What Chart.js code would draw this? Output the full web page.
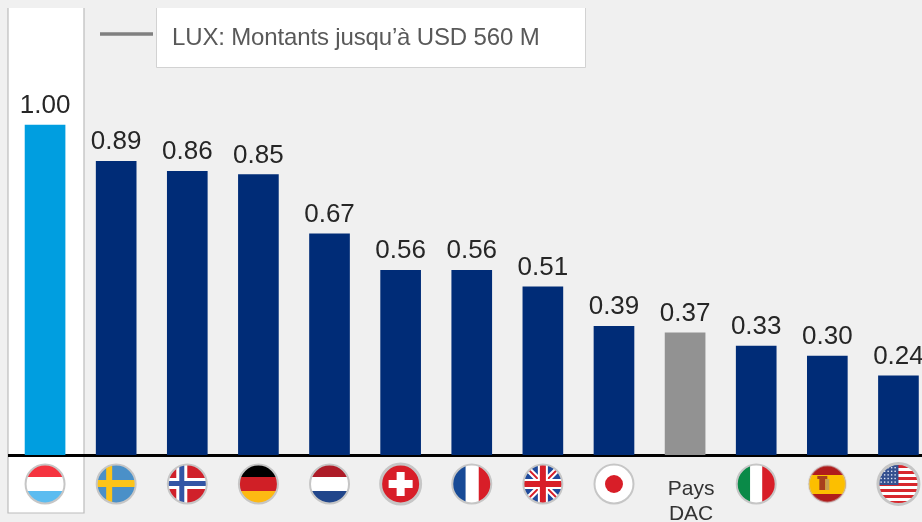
<!DOCTYPE html>
<html lang="fr">
<head>
<meta charset="utf-8">
<title>Montants LUX</title>
<script src="https://cdn.jsdelivr.net/npm/chart.js@4"></script>
<style>
  html, body { margin: 0; padding: 0; width: 922px; height: 522px; overflow: hidden; background: #f0f0f0; }
  canvas { display: block; }
</style>
</head>
<body>
<canvas id="myChart" width="934" height="522"></canvas>
<script>
const categories = ['LUX', 'SWE', 'NOR', 'DEU', 'NLD', 'CHE', 'FRA', 'GBR', 'JPN', 'Pays DAC', 'ITA', 'ESP', 'USA'];
const values = [1.00, 0.89, 0.86, 0.85, 0.67, 0.56, 0.56, 0.51, 0.39, 0.37, 0.33, 0.30, 0.24];
const barColors = ['#009ee0', '#002c77', '#002c77', '#002c77', '#002c77', '#002c77', '#002c77', '#002c77', '#002c77', '#929292', '#002c77', '#002c77', '#002c77'];
const legendText = 'LUX: Montants jusqu\u2019à USD 560 M';

const FONT = '"Liberation Sans", Arial, sans-serif';

function rect(g, col, x, y, w, h) { g.fillStyle = col; g.fillRect(x, y, w, h); }

/* each flag paints a 40x40 box centred on 0,0, clipped to a circle */
const flags = {
  LUX(g) { rect(g, '#f5333f', -20, -20, 40, 13); rect(g, '#fff', -20, -7, 40, 14); rect(g, '#5cbcf0', -20, 7, 40, 13); },
  SWE(g) { rect(g, '#4a90c8', -20, -20, 40, 40); rect(g, '#fcc419', -10, -20, 6, 40); rect(g, '#fcc419', -20, -4, 40, 7); },
  NOR(g) {
    rect(g, '#d0202a', -20, -20, 40, 40);
    rect(g, '#fff', -11, -20, 11, 40); rect(g, '#fff', -20, -6, 40, 11);
    rect(g, '#3355a5', -8, -20, 5, 40); rect(g, '#3355a5', -20, -3, 40, 5);
  },
  DEU(g) { rect(g, '#000', -20, -20, 40, 13); rect(g, '#d01f26', -20, -7, 40, 14); rect(g, '#fdb913', -20, 7, 40, 13); },
  NLD(g) { rect(g, '#ae1c28', -20, -20, 40, 13); rect(g, '#fff', -20, -7, 40, 14); rect(g, '#21468b', -20, 7, 40, 13); },
  CHE(g) { rect(g, '#d81e28', -20, -20, 40, 40); rect(g, '#fff', -4, -12, 8, 24); rect(g, '#fff', -12, -4, 24, 8); },
  FRA(g) { rect(g, '#174a96', -20, -20, 14, 40); rect(g, '#fff', -6, -20, 13, 40); rect(g, '#d81e28', 7, -20, 13, 40); },
  GBR(g) {
    rect(g, '#1f4a9c', -20, -20, 40, 40);
    g.lineCap = 'butt';
    g.strokeStyle = '#fff'; g.lineWidth = 6;
    g.beginPath(); g.moveTo(-20, -20); g.lineTo(20, 20); g.moveTo(20, -20); g.lineTo(-20, 20); g.stroke();
    g.strokeStyle = '#d81e28'; g.lineWidth = 2;
    g.beginPath(); g.moveTo(-20, -20); g.lineTo(20, 20); g.moveTo(20, -20); g.lineTo(-20, 20); g.stroke();
    rect(g, '#fff', -5, -20, 10, 40); rect(g, '#fff', -20, -5, 40, 10);
    rect(g, '#d81e28', -3, -20, 6, 40); rect(g, '#d81e28', -20, -3, 40, 6);
  },
  JPN(g) { rect(g, '#fff', -20, -20, 40, 40); g.fillStyle = '#d81e28'; g.beginPath(); g.arc(0, 0, 9, 0, Math.PI * 2); g.fill(); },
  ITA(g) { rect(g, '#0a8a48', -20, -20, 14, 40); rect(g, '#fff', -6, -20, 12, 40); rect(g, '#d81e28', 6, -20, 14, 40); },
  ESP(g) {
    rect(g, '#b01c1c', -20, -20, 40, 40); rect(g, '#fcbf00', -20, -9, 40, 19);
    rect(g, '#a8401c', -8, -5, 6, 11); rect(g, '#c8a050', -2, -5, 4, 11); rect(g, '#a8401c', -10, -8, 10, 3);
  },
  USA(g) {
    rect(g, '#fff', -21, -21, 42, 42);
    for (let i = 0; i < 7; i++) rect(g, '#d8272d', -21, -19 + i * 6, 42, 3);
    rect(g, '#34508f', -21, -21, 21, 22);
    g.fillStyle = '#dfe6f5';
    for (let r = 0; r < 5; r++) for (let c = 0; c < 5; c++) g.fillRect(-18 + c * 3.5, -17 + r * 3.6, 1.4, 1.4);
  },
};

const flagRadius = { USA: 20.5, CHE: 20, ESP: 18.5 };

const decorPlugin = {
  id: 'decor',
  beforeDraw(chart) {
    const g = chart.ctx;
    g.save();
    // white panel behind the first category
    g.fillStyle = '#fff'; g.fillRect(8, 8, 76, 505);
    g.strokeStyle = '#bcbcbc'; g.lineWidth = 1.2;
    g.beginPath(); g.moveTo(8, 8); g.lineTo(8, 513); g.lineTo(84, 513); g.lineTo(84, 8); g.stroke();
    // legend
    g.fillStyle = '#fff'; g.fillRect(156, 8, 429, 59);
    g.strokeStyle = '#d2d2d2'; g.lineWidth = 1;
    g.beginPath(); g.moveTo(156.5, 8); g.lineTo(156.5, 67.5); g.lineTo(585.5, 67.5); g.lineTo(585.5, 8); g.stroke();
    g.strokeStyle = '#808080'; g.lineWidth = 3.5;
    g.beginPath(); g.moveTo(100, 34); g.lineTo(153, 34); g.stroke();
    g.fillStyle = '#595959'; g.font = '24px ' + FONT; g.textAlign = 'left'; g.textBaseline = 'alphabetic';
    g.letterSpacing = '-0.15px';
    g.fillText(legendText, 172, 45);
    g.letterSpacing = '0px';
    g.restore();
  },
  afterDatasetsDraw(chart) {
    const g = chart.ctx, x = chart.scales.x, y = chart.scales.y;
    g.save();
    // value labels
    g.fillStyle = '#262626'; g.font = '26px ' + FONT; g.textAlign = 'center'; g.textBaseline = 'alphabetic';
    values.forEach((v, i) => g.fillText(v.toFixed(2), x.getPixelForValue(i), y.getPixelForValue(v) - 12));
    // flags under the axis
    categories.forEach((c, i) => {
      if (!flags[c]) return;
      const cx = x.getPixelForValue(i), cy = 484, r = flagRadius[c] || 19.5;
      g.save();
      g.translate(cx, cy);
      g.beginPath(); g.arc(0, 0, r, 0, Math.PI * 2); g.clip();
      flags[c](g);
      g.restore();
      g.strokeStyle = c === 'ESP' ? 'rgba(200,200,200,.5)' : '#c6c6c6'; g.lineWidth = c === 'CHE' || c === 'USA' ? 3 : 2;
      g.beginPath(); g.arc(cx, cy, r, 0, Math.PI * 2); g.stroke();
    });
    g.restore();
  },
};

new Chart(document.getElementById('myChart').getContext('2d'), {
  type: 'bar',
  data: {
    labels: categories,
    datasets: [{ data: values, backgroundColor: barColors, barThickness: 40 }],
  },
  options: {
    responsive: false,
    animation: false,
    layout: { padding: { left: 9.5, right: 0, top: 0, bottom: 0 } },
    plugins: { legend: { display: false }, tooltip: { enabled: false } },
    scales: {
      x: {
        afterFit(s) { s.height = 67; },
        grid: { display: false, drawTicks: false },
        border: { display: true, color: '#000', width: 3 },
        ticks: {
          autoSkip: false, maxRotation: 0, padding: 22, labelOffset: 6,
          color: '#333', font: { family: FONT, size: 21, lineHeight: 1.17 },
          callback(v) { const l = this.getLabelForValue(v); return l === 'Pays DAC' ? ['Pays', 'DAC'] : ''; },
        },
      },
      y: { display: false, min: 0, max: 1.379 },
    },
  },
  plugins: [decorPlugin],
});
</script>
</body>
</html>
